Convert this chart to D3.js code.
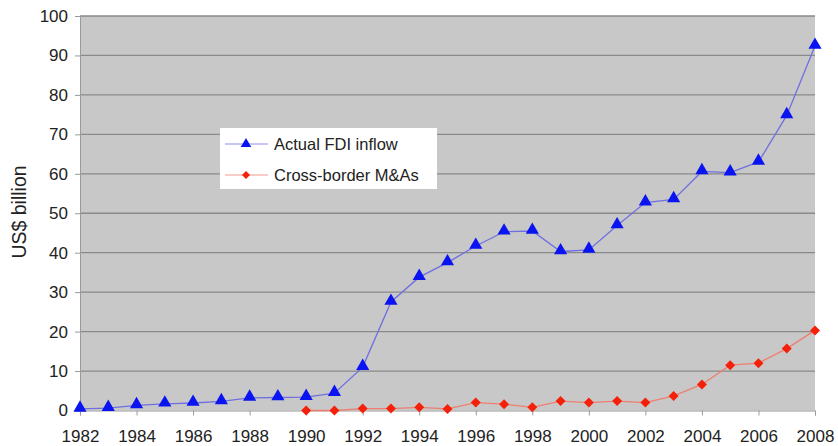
<!DOCTYPE html>
<html><head><meta charset="utf-8">
<script src="https://cdn.jsdelivr.net/npm/d3@7"></script>
<style>body{margin:0;background:#fff;} text{font-family:"Liberation Sans",Arial,sans-serif;}</style>
</head><body><svg id="c" width="838" height="446"></svg>
<script>
const years = d3.range(1982, 2009);
const fdiValues = [0.4,0.6,1.3,1.7,1.9,2.3,3.2,3.3,3.4,4.4,11.0,27.5,33.8,37.5,41.7,45.3,45.5,40.3,40.7,46.9,52.7,53.5,60.6,60.3,63.0,74.8,92.4];
const maYears = d3.range(1990, 2009);
const maValues = [0.0,0.0,0.5,0.5,0.8,0.4,2.0,1.6,0.8,2.4,2.0,2.4,2.0,3.7,6.6,11.5,12.0,15.7,20.3];
const yTicks = [0,10,20,30,40,50,60,70,80,90,100];
const xTickLabels = d3.range(1982, 2009, 2);
const seriesNames = ["Actual FDI inflow", "Cross-border M&As"];

const svg = d3.select("#c");
const pL = 80, pR = 815, pT = 16, pB = 410.5;
const x = d3.scaleLinear().domain([1982, 2008]).range([pL, pR]);
const y = d3.scaleLinear().domain([0, 100]).range([pB, pT]);
const FF = '"Liberation Sans",Arial,sans-serif';

svg.append("rect").attr("x", pL).attr("y", pT).attr("width", pR-pL).attr("height", pB-pT).attr("fill", "#c8c8c8");

// gridlines
svg.append("g").selectAll("line").data(yTicks.filter(d=>d>0)).join("line")
  .attr("x1", pL).attr("x2", pR).attr("y1", d=>y(d)).attr("y2", d=>y(d))
  .attr("stroke", "#8a8a8a").attr("stroke-width", 1.3);

// y axis
const yAxis = d3.axisLeft(y).tickValues(yTicks).tickSize(5).tickPadding(7);
const gy = svg.append("g").attr("transform", `translate(${pL},0)`).call(yAxis);
gy.select(".domain").attr("stroke", "#9a9a9a");
gy.selectAll(".tick line").attr("stroke", "#9a9a9a");
gy.selectAll("text").attr("font-size", 17).attr("fill", "#222").style("font-family", FF);

// x axis
const xAxis = d3.axisBottom(x).tickValues(xTickLabels).tickFormat(d3.format("d")).tickSize(5).tickPadding(14);
const gx = svg.append("g").attr("transform", `translate(0,${pB})`).call(xAxis);
gx.select(".domain").attr("stroke", "#9a9a9a");
gx.selectAll(".tick line").attr("stroke", "#9a9a9a");
gx.selectAll("text").attr("font-size", 17).attr("fill", "#222").style("font-family", FF);

// y label
svg.append("text").attr("transform", "translate(26,212) rotate(-90)").attr("text-anchor", "middle")
  .attr("font-size", 19.5).attr("fill", "#222").text("US$ billion");

const line = d3.line().x(d=>x(d[0])).y(d=>y(d[1]));
const fdi = years.map((yr,i)=>[yr, fdiValues[i]]);
const ma = maYears.map((yr,i)=>[yr, maValues[i]]);

svg.append("path").datum(fdi).attr("d", line).attr("fill","none").attr("stroke","#6f6fe0").attr("stroke-width",1.3);
svg.append("path").datum(ma).attr("d", line).attr("fill","none").attr("stroke","#ee7f70").attr("stroke-width",1.3);

const tri = d3.symbol().type(d3.symbolTriangle).size(75);
const dia = d3.symbol().type(d3.symbolSquare).size(50);
svg.append("g").selectAll("path").data(fdi).join("path")
  .attr("d", tri).attr("transform", d=>`translate(${x(d[0])},${y(d[1])-1})`).attr("fill", "#0a14f0");
svg.append("g").selectAll("path").data(ma).join("path")
  .attr("d", dia).attr("transform", d=>`translate(${x(d[0])},${y(d[1])}) rotate(45)`).attr("fill", "#f5200a");

// legend
const lg = svg.append("g");
lg.append("rect").attr("x", 220).attr("y", 128).attr("width", 217).attr("height", 61).attr("fill", "#fff");
const lgItems = [
  {name: seriesNames[0], color: "#8f8fe8", mark: "#0a14f0", sym: tri, yy: 144, rot: 0},
  {name: seriesNames[1], color: "#f29a8e", mark: "#f5200a", sym: dia, yy: 175, rot: 45}
];
lgItems.forEach(it => {
  lg.append("line").attr("x1", 225).attr("x2", 268).attr("y1", it.yy).attr("y2", it.yy).attr("stroke", it.color).attr("stroke-width", 1);
  lg.append("path").attr("d", it.sym).attr("transform", `translate(246,${it.yy}) rotate(${it.rot}) scale(0.8)`).attr("fill", it.mark);
  lg.append("text").attr("x", 274).attr("y", it.yy + 6).attr("font-size", 16.5).attr("fill", "#222").text(it.name);
});
</script></body></html>
